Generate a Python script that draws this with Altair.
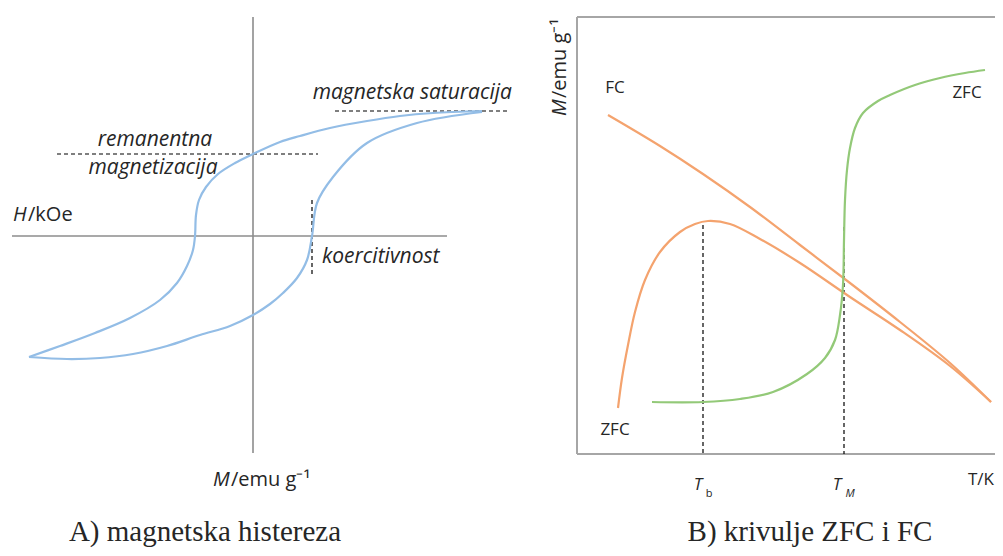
import altair as alt
import pandas as pd

# ---- data (schematic curves, page-pixel units) ----
# hysteresis loop: descending branch (saturation tip -> negative tip)
down_x = [482, 433, 400, 367, 330, 300, 280, 253, 235, 218, 206, 199, 196, 195, 193, 187, 177, 160, 130, 95, 60, 29]
down_y = [111, 113, 116, 121, 128, 136, 142, 154, 163, 174, 187, 200, 215, 236, 250, 266, 283, 300, 318, 333, 346, 357]
# ascending branch (negative tip -> saturation tip)
up_x = [29, 67, 100, 133, 167, 200, 230, 253, 270, 283, 297, 307, 312, 317, 333, 367, 417, 482]
up_y = [357, 359, 358, 354, 346, 335, 326, 315, 304, 293, 278, 260, 236, 203, 177, 143, 123, 112]

fc_x = [608, 660, 703, 750, 800, 850, 900, 950, 991]
fc_y = [115, 146, 174, 207, 245, 283, 322, 363, 402]

zfc_o_x = [618, 622, 628, 635, 645, 660, 680, 695, 708, 730, 760, 800, 850, 900, 950, 991]
zfc_o_y = [408, 378, 345, 312, 280, 252, 232, 224, 221, 224, 239, 263, 297, 330, 366, 402]

zfc_g_x = [652, 703, 740, 773, 807, 825, 835, 840, 843, 844, 845, 847, 850, 855, 863, 878, 890, 915, 940, 965, 985]
zfc_g_y = [402, 402, 399, 392, 374, 358, 340, 315, 285, 240, 200, 170, 148, 128, 113, 101, 95, 85, 78, 73, 70]

# axes / guides: (x, y, x2, y2)
axes_rows = [
    (253, 17, 253, 453),   # left panel vertical axis
    (12, 236, 447, 236),   # left panel horizontal axis
]
box_rows = [
    (577, 17, 577, 454),
    (577, 454, 1003, 454),
    (577, 17, 1003, 17),
]
dash_rows = [
    (57, 154, 318, 154),   # remanentna
    (335, 111, 507, 111),  # saturacija
    (312, 200, 312, 275),  # koercitivnost
    (703, 225, 703, 454),  # T_b
    (844, 227, 844, 454),  # T_M
]

W, H = 987, 540
X = lambda f: alt.X(f, type="quantitative", axis=None,
                    scale=alt.Scale(domain=[8, 8 + W], nice=False, zero=False))
Y = lambda f: alt.Y(f, type="quantitative", axis=None,
                    scale=alt.Scale(domain=[8, 8 + H], nice=False, zero=False, reverse=True))


def curve(xs, ys, color, width=2.2):
    df = pd.DataFrame({"x": xs, "y": ys, "i": range(len(xs))})
    return alt.Chart(df).mark_line(color=color, strokeWidth=width, clip=False,
                                   interpolate="catmull-rom").encode(
        x=X("x"), y=Y("y"), order="i:Q")


def rules(rows, color, width, dash=None):
    df = pd.DataFrame(rows, columns=["x", "y", "x2", "y2"])
    kw = dict(color=color, strokeWidth=width)
    if dash:
        kw["strokeDash"] = dash
    return alt.Chart(df).mark_rule(**kw).encode(x=X("x"), y=Y("y"), x2="x2", y2="y2")


def label(txt, x, y, size=21, style="normal", font="Open Sans", align="center", angle=0,
          color="#262626", baseline="middle"):
    df = pd.DataFrame({"x": [x], "y": [y], "t": [txt]})
    kw = dict(font=font, fontSize=size, fontStyle=style, align=align, baseline=baseline, color=color)
    if angle:
        kw["angle"] = angle
    return alt.Chart(df).mark_text(**kw).encode(x=X("x"), y=Y("y"), text="t:N")


BLUE, ORANGE, GREEN = "#93bde6", "#f4a36e", "#93c978"

layers = [
    rules(axes_rows, "#8c8c8c", 1.6),
    rules(box_rows, "#a6a6a6", 2),
    rules(dash_rows, "#000000", 1.2, [4, 3]),
    curve(down_x, down_y, BLUE),
    curve(up_x, up_y, BLUE),
    curve(fc_x, fc_y, ORANGE),
    curve(zfc_o_x, zfc_o_y, ORANGE),
    curve(zfc_g_x, zfc_g_y, GREEN),
    # left panel texts
    label("magnetska saturacija", 512, 93, style="italic", align="right"),
    label("remanentna", 155, 140, style="italic"),
    label("magnetizacija", 153, 168, style="italic"),
    label("H", 13, 215, size=20, style="italic", align="left"),
    label("/kOe", 28, 215, size=20, align="left"),
    label("koercitivnost", 322, 257, style="italic", align="left"),
    label("M", 213, 480, size=20, style="italic", align="left"),
    label("/emu g⁻¹", 231, 480, size=20, align="left"),
    label("A) magnetska histereza", 205, 541, size=29, font="Liberation Serif", baseline="alphabetic"),
    # right panel texts
    label("M", 560, 116, size=20, style="italic", align="left", angle=270),
    label("/emu g⁻¹", 560, 98, size=20, align="left", angle=270),
    label("FC", 615, 88, size=17),
    label("ZFC", 967, 93, size=17),
    label("ZFC", 615, 430, size=17),
    label("T", 698, 485, size=17, style="italic"),
    label("b", 709, 494, size=11),
    label("T", 837, 485, size=17, style="italic"),
    label("M", 850, 494, size=11, style="italic"),
    label("T/K", 994, 480, size=17, align="right"),
    label("B) krivulje ZFC i FC", 810, 541, size=29, font="Liberation Serif", baseline="alphabetic"),
]

chart = alt.layer(*layers).properties(
    width=W, height=H, padding=0, autosize=alt.AutoSizeParams(type="none")
).configure_view(stroke=None)

chart.save("out.html", embed_options={"renderer": "svg", "actions": False})
